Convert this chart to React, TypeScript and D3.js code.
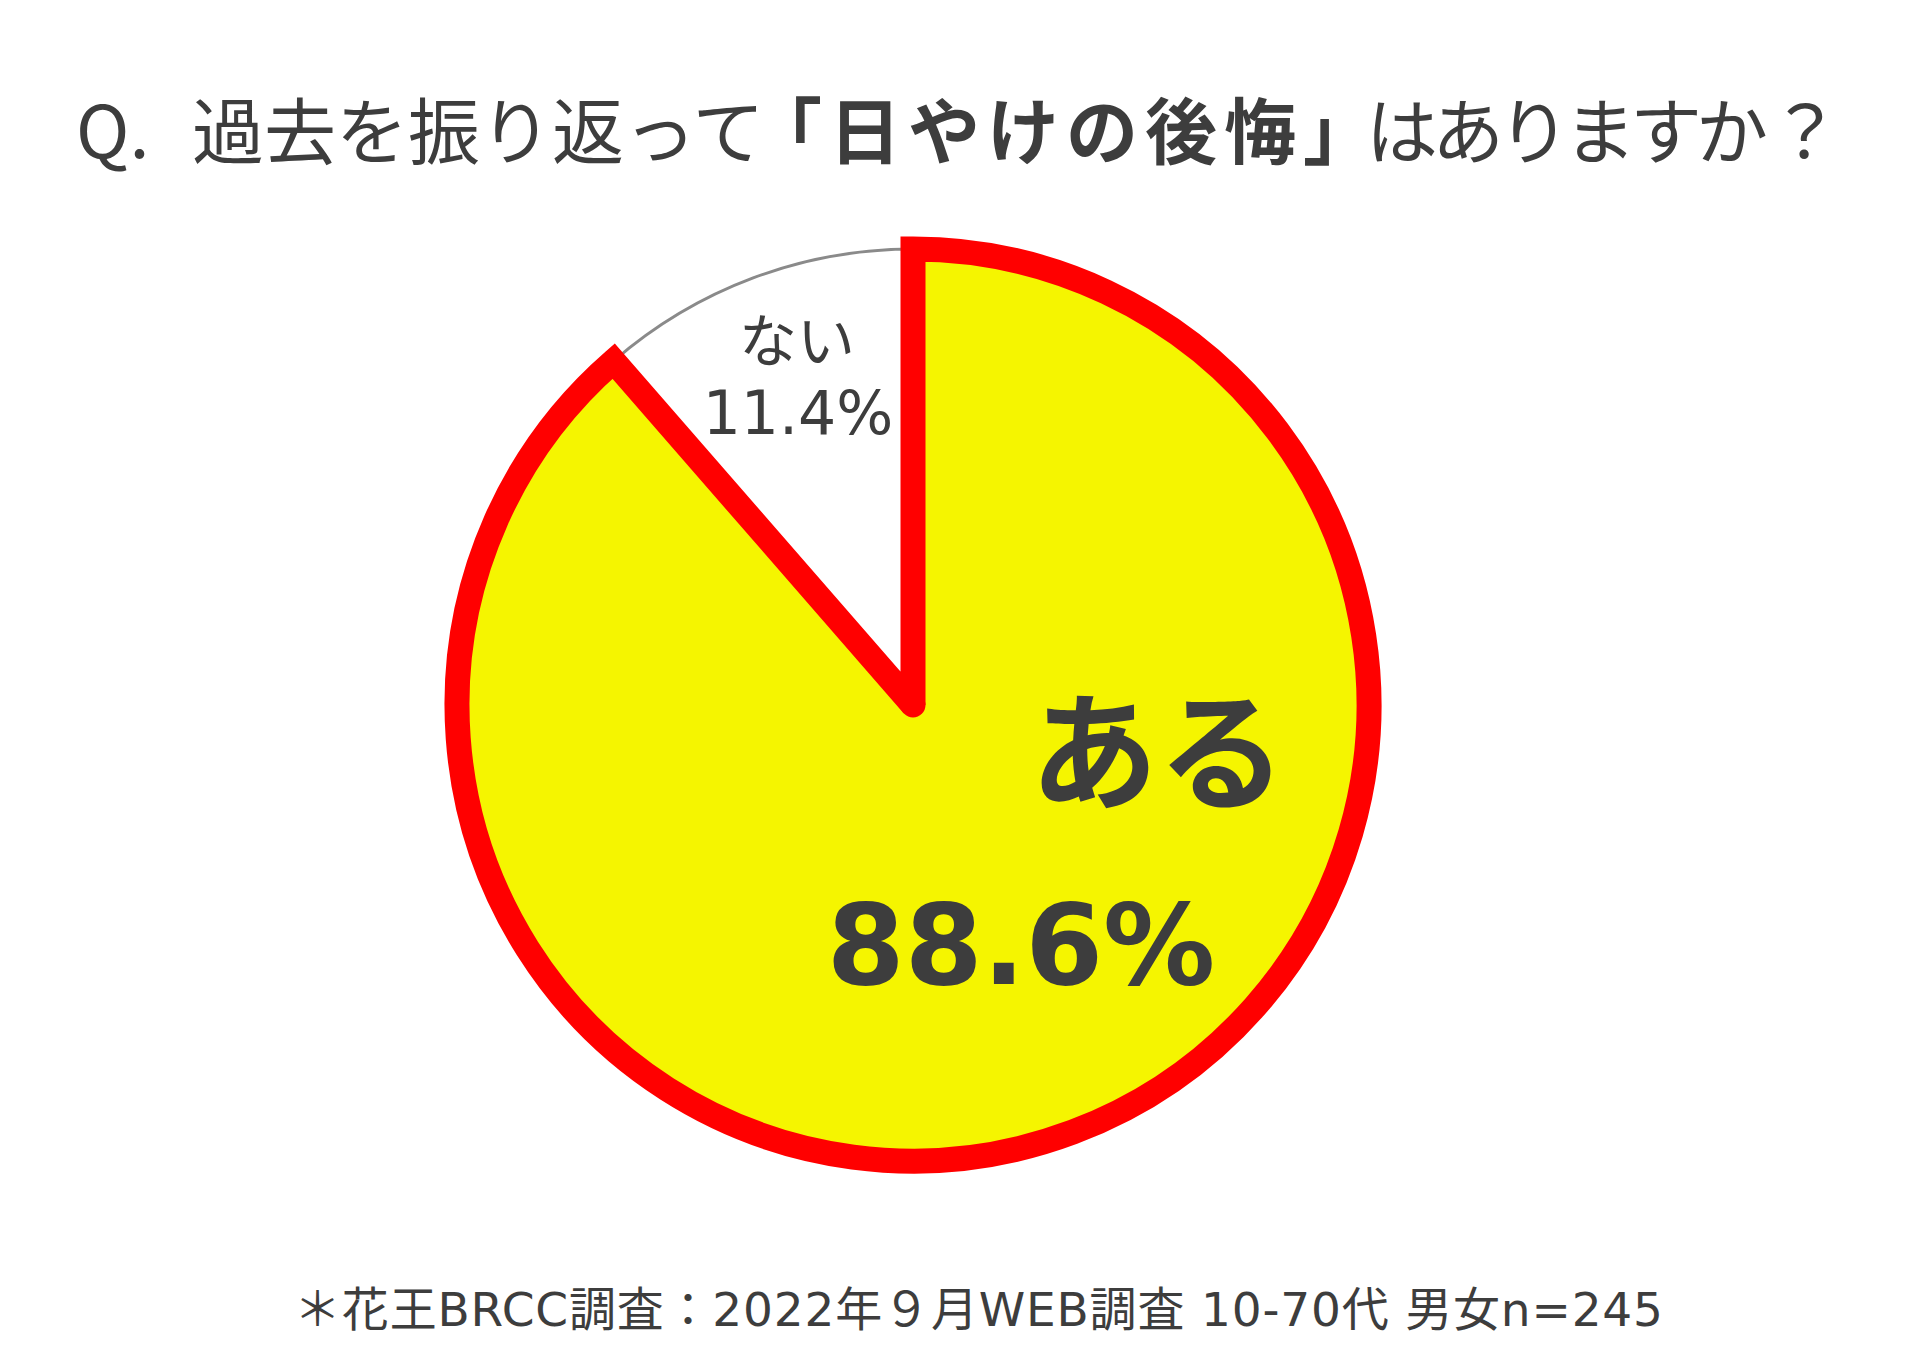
import React from "react";
import * as d3 from "d3";

const categories = ["ある", "ない"];
const values = [88.6, 11.4];
const valueLabels = ["88.6%", "11.4%"];
const titleParts = ["Q.", "過去を振り返って", "「日やけの後悔」", "はありますか", "？"];
const footnote = "＊花王BRCC調査：2022年９月WEB調査 10-70代 男女n=245";

const W = 1920;
const H = 1350;
const cx = 913;
const cy = 705;
const R = 456;
const TEXT = "#3d3d3d";
const JP = "'Noto Sans CJK JP', 'Noto Sans', sans-serif";
const LAT = "'DejaVu Sans', 'Noto Sans', sans-serif";
const MIX = "'DejaVu Sans', 'Noto Sans CJK JP', sans-serif";

export default function App() {
  const pie = d3
    .pie<number>()
    .sort(null)
    .value((d) => d)
    .startAngle(0)
    .endAngle(2 * Math.PI);
  const arcs = pie(values);
  const arc = d3.arc<d3.PieArcDatum<number>>().innerRadius(0).outerRadius(R);

  const yes = arcs[0];
  const no = arcs[1];

  return (
    <svg width={W} height={H} style={{ display: "block", position: "absolute", left: 0, top: 0, background: "#fff" }}>
      <rect width={W} height={H} fill="#ffffff" />
      <text y={158} fill={TEXT} fontFamily={JP} fontSize={72}>
        <tspan x={76}>{titleParts[0]}</tspan>
        <tspan x={192}>{titleParts[1]}</tspan>
        <tspan x={750} fontWeight={700} letterSpacing={7}>{titleParts[2]}</tspan>
        <tspan x={1366} letterSpacing={-6}>{titleParts[3]}</tspan>
        <tspan x={1769}>{titleParts[4]}</tspan>
      </text>

      <g transform={`translate(${cx},${cy})`}>
        <path d={arc(no) || ""} fill="#ffffff" stroke="#8a8a8a" strokeWidth={3} />
        <path
          d={arc(yes) || ""}
          fill="#f5f500"
          stroke="#ff0000"
          strokeWidth={25}
          strokeLinejoin="miter"
          strokeMiterlimit={2}
        />
        <circle r={12.5} fill="#ff0000" />
      </g>

      <text x={797} y={362} textAnchor="middle" fill={TEXT} fontFamily={JP} fontSize={58}>
        {categories[1]}
      </text>
      <text x={798} y={434} textAnchor="middle" fill={TEXT} fontFamily={LAT} fontSize={60}>
        {valueLabels[1]}
      </text>

      <text x={1158} y={800} textAnchor="middle" fill={TEXT} fontFamily={JP} fontWeight={700} fontSize={128}>
        {categories[0]}
      </text>
      <text x={1021} y={984} textAnchor="middle" fill={TEXT} fontFamily={LAT} fontWeight={700} fontSize={112}>
        {valueLabels[0]}
      </text>

      <text
        x={294}
        y={1326}
        fill={TEXT}
        fontFamily={MIX}
        fontSize={47}
        textLength={1369}
        lengthAdjust="spacing"
      >
        {footnote}
      </text>
    </svg>
  );
}
